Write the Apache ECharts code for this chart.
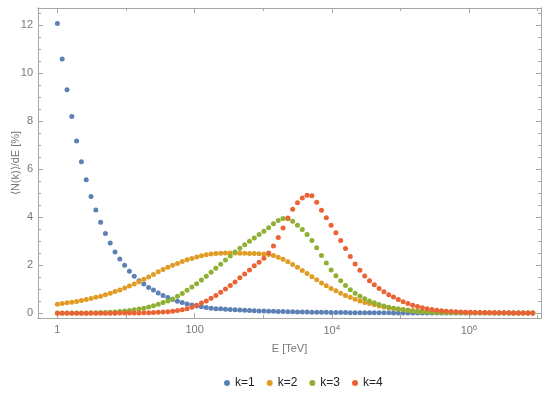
<!DOCTYPE html>
<html>
<head>
<meta charset="utf-8">
<script src="https://cdn.jsdelivr.net/npm/echarts@6/dist/echarts.min.js"></script>
<style>html,body{margin:0;padding:0;background:#fff}#c{width:550px;height:395px}</style>
</head>
<body>
<div id="c"></div>
<script>
const logEStep = 0.07;
const seriesNames = ['k=1', 'k=2', 'k=3', 'k=4'];
const k1 = [12.05,10.58,9.30,8.18,7.17,6.30,5.55,4.86,4.29,3.78,3.32,2.92,2.55,2.26,1.99,1.75,1.54,1.35,1.21,1.07,
  0.96,0.84,0.74,0.65,0.57,0.50,0.44,0.38,0.34,0.30,0.27,0.24,0.21,0.19,0.18,0.16,0.15,0.14,0.13,0.12,
  0.11,0.10,0.09,0.09,0.08,0.08,0.07,0.07,0.06,0.06,0.05,0.05,0.05,0.04,0.04,0.04,0.04,0.03,0.03,0.03,
  0.03,0.02,0.02,0.02,0.02,0.02,0.02,0.02,0.02,0.02,0.01,0.01,0.01,0.01,0.01,0.01,0.01,0.01,0.01,0.01,
  0.01,0.01,0.01,0.01,0.01,0.01,0.01,0.01,0.01,0.01,0.01,0.01,0.01,0.01,0.01,0.01,0.01,0.01,0.01,0.01];
const k2 = [0.37,0.40,0.43,0.46,0.49,0.53,0.57,0.61,0.66,0.71,0.77,0.83,0.90,0.97,1.05,1.13,1.22,1.31,1.41,1.51,
  1.61,1.72,1.82,1.91,1.99,2.07,2.15,2.22,2.28,2.34,2.39,2.43,2.46,2.48,2.49,2.50,2.50,2.50,2.49,2.49,
  2.48,2.48,2.47,2.46,2.44,2.40,2.33,2.24,2.14,2.03,1.91,1.78,1.65,1.52,1.39,1.26,1.14,1.03,0.93,0.83,
  0.74,0.66,0.58,0.51,0.45,0.40,0.35,0.30,0.26,0.23,0.20,0.17,0.15,0.13,0.11,0.09,0.08,0.07,0.06,0.05,
  0.05,0.04,0.04,0.03,0.03,0.03,0.02,0.02,0.02,0.02,0.02,0.02,0.02,0.02,0.01,0.01,0.01,0.01,0.01,0.01];
const k3 = [0.01,0.01,0.01,0.01,0.01,0.01,0.01,0.02,0.02,0.03,0.03,0.04,0.05,0.07,0.09,0.11,0.14,0.17,0.21,0.26,
  0.31,0.37,0.44,0.51,0.59,0.70,0.82,0.95,1.09,1.23,1.38,1.54,1.70,1.87,2.04,2.21,2.38,2.55,2.70,2.85,
  2.99,3.13,3.27,3.41,3.56,3.72,3.86,3.94,3.93,3.83,3.66,3.48,3.27,3.03,2.72,2.40,2.09,1.80,1.56,1.35,
  1.15,0.98,0.83,0.70,0.60,0.51,0.43,0.36,0.30,0.25,0.21,0.17,0.14,0.11,0.09,0.07,0.06,0.05,0.04,0.04,
  0.03,0.03,0.02,0.02,0.02,0.02,0.02,0.02,0.02,0.02,0.02,0.01,0.01,0.01,0.01,0.01,0.01,0.01,0.01,0.01];
const k4 = [0.00,0.00,0.00,0.00,0.00,0.00,0.00,0.00,0.00,0.00,0.00,0.00,0.00,0.01,0.01,0.01,0.01,0.01,0.02,0.02,
  0.03,0.04,0.05,0.06,0.08,0.11,0.14,0.19,0.25,0.33,0.42,0.51,0.62,0.74,0.87,1.01,1.15,1.30,1.47,1.63,
  1.80,1.97,2.12,2.29,2.50,2.80,3.15,3.55,3.96,4.33,4.60,4.79,4.91,4.89,4.62,4.28,3.97,3.66,3.35,3.03,
  2.69,2.36,2.05,1.79,1.55,1.35,1.18,1.03,0.89,0.77,0.67,0.57,0.48,0.40,0.33,0.28,0.23,0.18,0.15,0.12,
  0.10,0.08,0.07,0.06,0.05,0.04,0.04,0.03,0.03,0.03,0.02,0.02,0.02,0.02,0.02,0.01,0.01,0.01,0.01,0.01];
const xMajorTicks = [0, 2, 4, 6];      // log10(E) of labelled ticks
const xMinorTicks = [1, 3, 5, 7];
const xTickLabels = ['1', '100', '10{s|4}', '10{s|6}'];
const yTickValues = [0, 2, 4, 6, 8, 10, 12];
const yMinorTicks = [0.5,1,1.5,2.5,3,3.5,4.5,5,5.5,6.5,7,7.5,8.5,9,9.5,10.5,11,11.5,12.5];

const colors = ['#5e81b5', '#e19c24', '#8fb032', '#eb6235'];
const allValues = [k1, k2, k3, k4];
const logE = k1.map((_, i) => +(i * logEStep).toFixed(2));

const frame = '#a6a6a6';
const txt = '#777';
const font = 'Liberation Sans, Arial, sans-serif';
const X_MIN = -0.283, X_MAX = 7.05, Y_MIN = -0.2, Y_MAX = 12.7;

function xAxisDef(pos, ticks, len, labels) {
  return {
    type: 'value', position: pos, min: X_MIN, max: X_MAX,
    axisLine: { show: true, onZero: false, lineStyle: { color: frame, width: 1 } },
    axisTick: { show: true, inside: true, length: len, customValues: ticks, lineStyle: { color: frame } },
    axisLabel: labels ? {
      show: true, customValues: xMajorTicks, color: txt, fontFamily: font, fontSize: 11, margin: 6,
      formatter: v => xTickLabels[xMajorTicks.indexOf(Math.round(v))] || '',
      rich: { s: { fontSize: 8, verticalAlign: 'top', padding: [0, 0, 6, 0], color: txt, fontFamily: font } }
    } : { show: false },
    splitLine: { show: false },
    name: labels ? 'E [TeV]' : '', nameLocation: 'middle', nameGap: 25, nameMoveOverlap: false,
    nameTextStyle: { color: txt, fontFamily: font, fontSize: 11 }
  };
}
function yAxisDef(pos, ticks, len, labels) {
  return {
    type: 'value', position: pos, min: Y_MIN, max: Y_MAX,
    axisLine: { show: true, onZero: false, lineStyle: { color: frame, width: 1 } },
    axisTick: { show: true, inside: true, length: len, customValues: ticks, lineStyle: { color: frame } },
    axisLabel: labels ? { show: true, customValues: yTickValues, color: txt, fontFamily: font, fontSize: 11, margin: 5 } : { show: false },
    splitLine: { show: false },
    name: labels ? '\u27e8N(k)\u27e9/dE [%]' : '', nameLocation: 'middle', nameGap: 17, nameRotate: 90,
    nameMoveOverlap: false,
    nameTextStyle: { color: txt, fontFamily: font, fontSize: 11 }
  };
}

const chart = echarts.init(document.getElementById('c'), null, { renderer: 'canvas' });
chart.setOption({
  animation: false,
  color: colors,
  grid: { left: 38, right: 9, top: 8, bottom: 77, containLabel: false, outerBoundsMode: 'none' },
  xAxis: [
    xAxisDef('bottom', xMajorTicks, 5, true),
    xAxisDef('bottom', xMinorTicks, 3, false),
    xAxisDef('top', xMajorTicks, 5, false),
    xAxisDef('top', xMinorTicks, 3, false)
  ],
  yAxis: [
    yAxisDef('left', yTickValues, 5, true),
    yAxisDef('left', yMinorTicks, 3, false),
    yAxisDef('right', yTickValues, 5, false),
    yAxisDef('right', yMinorTicks, 3, false)
  ],
  legend: {
    top: 372, left: 219, icon: 'circle', itemWidth: 6, itemHeight: 6, itemGap: 12,
    textStyle: { color: '#222', fontFamily: font, fontSize: 12 },
    data: seriesNames
  },
  series: allValues.map((vals, s) => ({
    name: seriesNames[s], type: 'scatter', symbol: 'circle', symbolSize: 5,
    xAxisIndex: 0, yAxisIndex: 0,
    itemStyle: { color: colors[s], opacity: 1 },
    data: vals.map((v, i) => [logE[i], v])
  }))
});
</script>
</body>
</html>
